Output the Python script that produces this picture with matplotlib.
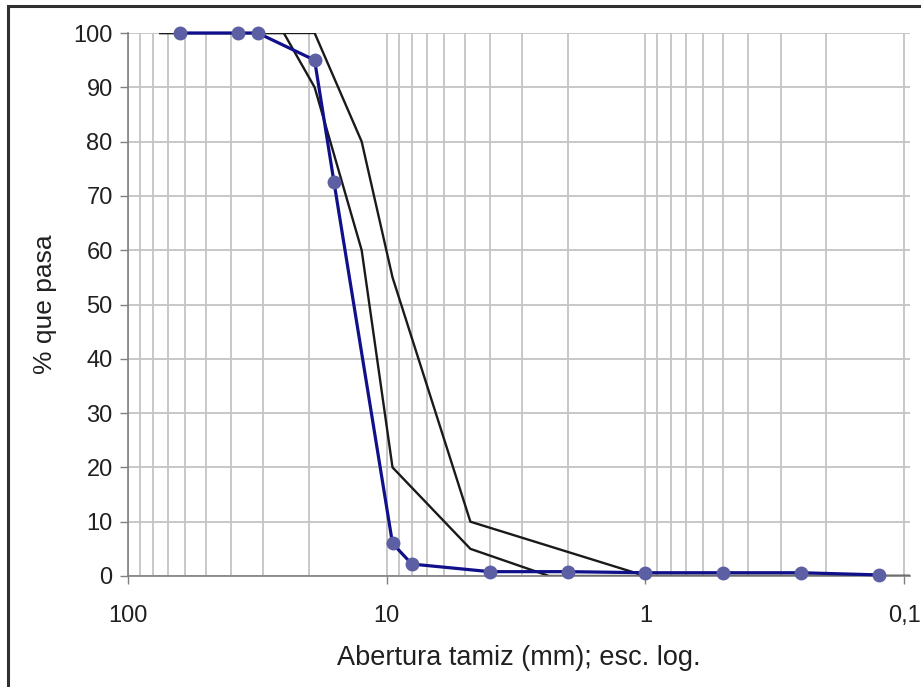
import matplotlib.pyplot as plt
from matplotlib.ticker import FixedLocator, NullFormatter
from matplotlib.patches import Rectangle

plt.rcParams['font.family'] = ['Liberation Sans', 'DejaVu Sans']

# curva granulometrica del agregado (mm, % que pasa)
tamiz_mm = [63, 37.5, 31.5, 19, 16, 9.5, 8, 4, 2, 1, 0.5, 0.25, 0.125]
pasa = [100, 100, 100, 95, 72.6, 6, 2.2, 0.8, 0.8, 0.6, 0.6, 0.6, 0.2]

# limites del huso
sup_mm = [75, 19, 12.5, 9.5, 4.75, 1, 0.075]
sup_pasa = [100, 100, 80, 55, 10, 0, 0]
inf_mm = [75, 25, 19, 12.5, 9.5, 4.75, 2.36, 0.075]
inf_pasa = [100, 100, 90, 60, 20, 5, 0, 0]

xticks = [100, 10, 1, 0.1]
xtick_labels = ['100', '10', '1', '0,1']

fig = plt.figure(figsize=(9.21, 6.87), dpi=100)
ax = fig.add_axes([128 / 921, 1 - 576 / 687, (910 - 128) / 921, (576 - 33) / 687])

grid_c = '#c4c4c4'
minors = [m * 10.0 ** e for e in (-1, 0, 1) for m in range(2, 10)]
ax.set_xscale('log')
ax.xaxis.set_minor_locator(FixedLocator(minors))
ax.xaxis.set_minor_formatter(NullFormatter())
ax.set_xticks(xticks)
ax.set_xticklabels(xtick_labels)
ax.set_xlim(100, 0.095)
ax.set_ylim(0, 100)
ax.set_yticks(range(0, 101, 10))

ax.grid(True, which='major', color=grid_c, lw=1.3)
ax.grid(True, which='minor', axis='x', color=grid_c, lw=1.3)
ax.tick_params(which='minor', length=0)
ax.tick_params(which='major', length=6, width=1, color='#808080', labelsize=17,
               labelcolor='#202020')
ax.tick_params(axis='y', pad=5)
ax.tick_params(axis='x', pad=15)
ax.set_axisbelow(True)

for s in ('top', 'right'):
    ax.spines[s].set_visible(False)
for s in ('left', 'bottom'):
    ax.spines[s].set_color('#808080')
    ax.spines[s].set_linewidth(1.2)

ax.plot(sup_mm, sup_pasa, color='#1a1a1a', lw=1.7)
ax.plot(inf_mm, inf_pasa, color='#1a1a1a', lw=1.7)
ax.plot(tamiz_mm, pasa, color='#10108a', lw=2.3, marker='o', markersize=9,
        markerfacecolor='#5c5fa3', markeredgecolor='#5c5fa3', clip_on=False, zorder=5)

ax.set_xlabel('Abertura tamiz (mm); esc. log.', fontsize=19.5, labelpad=13, color='#202020')
ax.set_ylabel('% que pasa', fontsize=19, labelpad=12, color='#202020')

fig.patches.append(Rectangle((8 / 921, -0.1), 1.2, 1 - 6 / 687 + 0.1,
                             transform=fig.transFigure, fill=False,
                             edgecolor='#303030', lw=2.2))

fig.savefig('out.png', dpi=100)
